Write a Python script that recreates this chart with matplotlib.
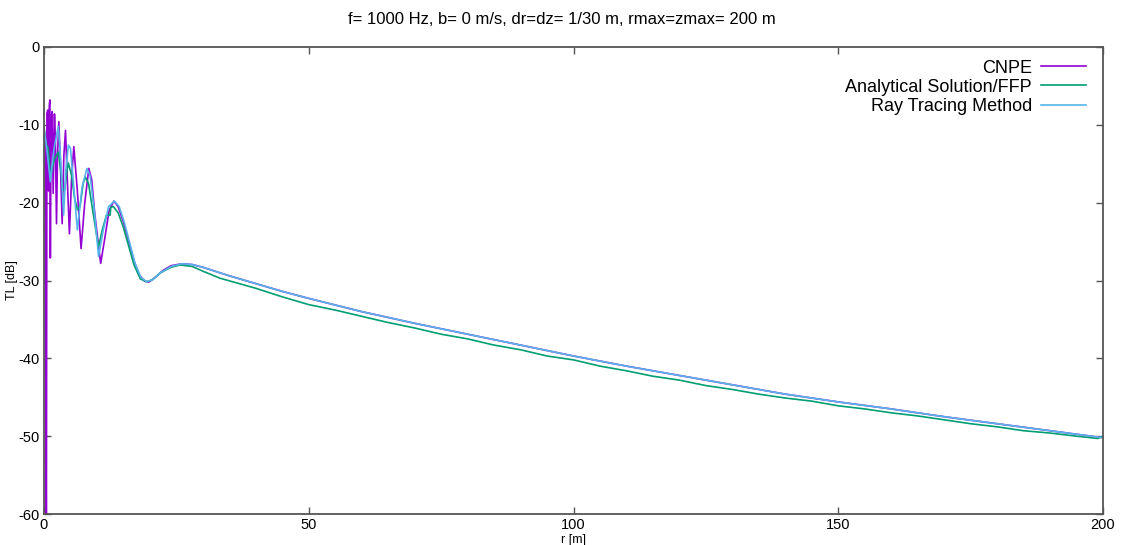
import matplotlib
matplotlib.use("Agg")
import matplotlib.pyplot as plt

plt.rcParams['font.family'] = ['Liberation Sans', 'DejaVu Sans']
plt.rcParams['axes.unicode_minus'] = False

title = "f= 1000 Hz, b= 0 m/s, dr=dz= 1/30 m, rmax=zmax= 200 m"
labels = ["CNPE", "Analytical Solution/FFP", "Ray Tracing Method"]
xticks = [0, 50, 100, 150, 200]
yticks = [0, -10, -20, -30, -40, -50, -60]

# CNPE
cnpe_r = [0.0, 0.2, 0.45, 0.55, 0.72, 0.85, 1.0, 1.1, 1.2, 1.35, 1.55, 1.73, 1.98,
          2.15, 2.36, 2.55, 2.8, 3.1, 3.43, 3.75, 4.06, 4.4, 4.8, 5.2, 5.63, 6.3,
          7.0, 7.7, 8.47, 9.0, 9.6, 10.7, 11.5, 12.3, 13.2, 14.0, 15.0, 16.0, 17.0,
          18.0, 19.0, 19.8, 21.0, 22.5, 24.0, 26.0, 28.0, 30, 35, 40, 45, 50, 60, 70,
          80, 90, 100, 110, 120, 130, 140, 150, 160, 170, 180, 190, 200]
cnpe_tl = [-10.5, -11.5, -65, -8.5, -8.1, -18.5, -7.5, -6.8, -27.1, -9.0, -8.3, -18.8,
           -8.6, -12, -22.7, -14, -9.6, -15, -22.7, -14, -10.7, -17, -24.0, -17, -12.8,
           -18.5, -25.9, -20, -15.6, -17, -21.5, -27.8, -24.5, -21, -19.8, -20.5, -22.5,
           -25, -27.5, -29.3, -30.1, -30.2, -29.6, -28.7, -28.1, -27.85, -27.95, -28.3,
           -29.4, -30.4, -31.4, -32.3, -34.0, -35.5, -36.9, -38.3, -39.7, -41.0, -42.2,
           -43.4, -44.6, -45.6, -46.5, -47.5, -48.4, -49.3, -50.2]

# Analytical Solution / FFP
ffp_r = [0.0, 0.5, 0.8, 1.2, 1.9, 2.7, 3.2, 3.5, 3.9, 4.3, 4.6, 5.2, 5.8, 6.3, 6.8,
         7.4, 7.8, 8.4, 9.2, 10.3, 11.0, 11.8, 12.5, 12.6, 13.1, 14.0, 15.0, 16.0,
         17.0, 18.2, 19.4, 20.5, 22, 24, 25.7, 28, 30, 33.2, 40, 45, 50, 55, 60, 65,
         70, 75, 80, 85, 90, 95, 100, 105, 110, 115, 120, 125, 130, 135, 140, 145,
         150, 155, 160, 165, 170, 175, 180, 185, 190, 195, 199, 200]
ffp_tl = [-11.1, -12.6, -13.0, -16.7, -14.5, -13.5, -16, -18.4, -18.4, -16, -14.9,
          -16.5, -19.5, -20.9, -20.5, -17.5, -16.7, -17.5, -21, -25.7, -23.5, -21.6,
          -21.6, -20.6, -20.5, -21.3, -23.2, -25.6, -28.0, -29.8, -30.15, -29.9, -29.0,
          -28.3, -28.0, -28.2, -28.8, -29.7, -31.0, -32.1, -33.1, -33.8, -34.6, -35.4,
          -36.1, -36.9, -37.5, -38.3, -38.9, -39.7, -40.2, -41.0, -41.6, -42.3, -42.8,
          -43.5, -44.0, -44.6, -45.1, -45.5, -46.1, -46.5, -47.0, -47.4, -47.9, -48.4,
          -48.8, -49.3, -49.6, -50.0, -50.3, -50.0]

# Ray Tracing Method
ray_r = [0.0, 0.6, 1.2, 1.9, 2.7, 3.2, 3.7, 4.1, 4.6, 5.0, 5.5, 6.3, 7.2, 8.1, 8.7,
         9.5, 10.3, 11.2, 12.2, 13.3, 14.2, 15.2, 16.2, 17.2, 18.3, 19.4, 20.5, 22,
         24, 26, 28, 30, 35, 40, 45, 50, 60, 70, 80, 90, 100, 110, 120, 130, 140, 150,
         160, 170, 180, 190, 200]
ray_tl = [-10.2, -13.5, -17.3, -13, -10.2, -15, -21.6, -16, -12.6, -13, -17, -23.5,
          -18, -15.6, -16.5, -21, -26.9, -23.5, -20.5, -19.8, -20.5, -22.6, -25.2,
          -27.8, -29.6, -30.15, -29.9, -29.0, -28.2, -27.85, -27.95, -28.3, -29.4,
          -30.4, -31.4, -32.3, -34.0, -35.5, -36.9, -38.3, -39.7, -41.0, -42.2, -43.4,
          -44.6, -45.6, -46.5, -47.5, -48.4, -49.3, -50.2]

colors = ["#9400D3", "#009E73", "#56B4E9"]

fig = plt.figure(figsize=(11.23, 5.45), dpi=100)
ax = fig.add_axes([44 / 1123, 1 - 514 / 545, (1103 - 44) / 1123, (514 - 47) / 545])

ax.plot(cnpe_r, cnpe_tl, color=colors[0], lw=1.2, label=labels[0])
ax.plot(ffp_r, ffp_tl, color=colors[1], lw=1.2, label=labels[1])
ax.plot(ray_r, ray_tl, color=colors[2], lw=1.2, label=labels[2])

ax.set_xlim(0, 200)
ax.set_ylim(-60, 0)
ax.set_xticks(xticks)
ax.set_yticks(yticks)
ax.tick_params(direction='in', top=True, right=True, length=5, width=1,
               color='#555555', labelsize=10.5, pad=3)
for s in ax.spines.values():
    s.set_color('#555555')
    s.set_linewidth(1.3)

ax.set_xlabel("r [m]", fontsize=9, labelpad=1)
ax.set_ylabel("TL [dB]", fontsize=9)
ax.yaxis.set_label_coords(-0.025, 0.5)
fig.text(0.5, 1 - 19 / 545, title, ha='center', va='center', fontsize=12)

leg = ax.legend(loc='upper right', frameon=False, markerfirst=False, fontsize=13,
                handlelength=2.5, handletextpad=0.5, labelspacing=0.12,
                borderaxespad=0.3, bbox_to_anchor=(0.996, 1.0))

fig.savefig("out.png", dpi=100)
